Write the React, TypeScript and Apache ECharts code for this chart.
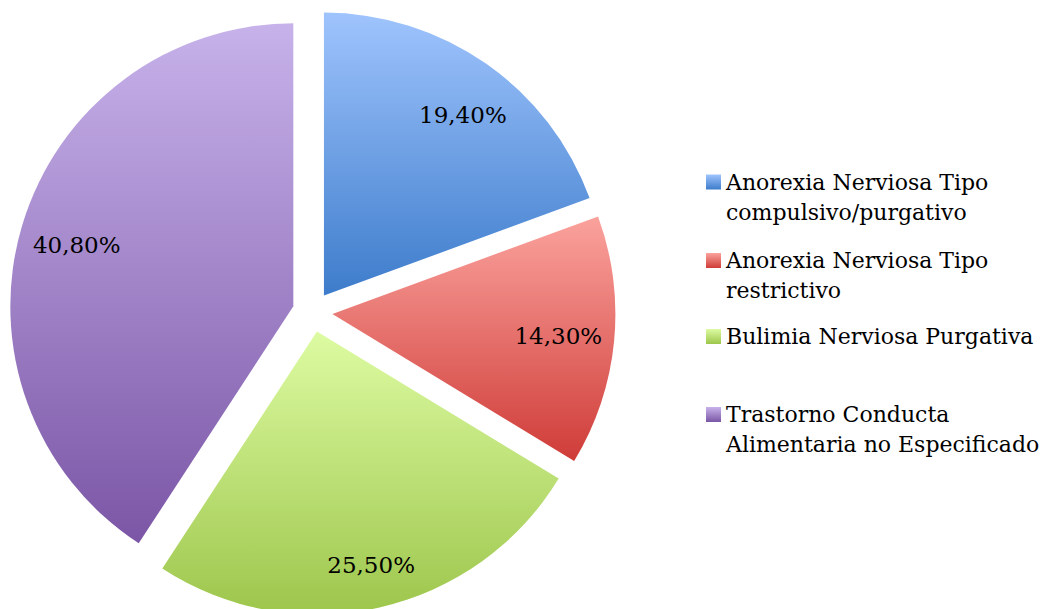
import React, { useEffect, useRef } from "react";
import * as echarts from "echarts";

const categories = [
  "Anorexia Nerviosa Tipo\ncompulsivo/purgativo",
  "Anorexia Nerviosa Tipo\nrestrictivo",
  "Bulimia Nerviosa Purgativa",
  "Trastorno Conducta\nAlimentaria no Especificado",
];
const values = [19.4, 14.3, 25.5, 40.8];
const topColors = ["#9fc4fd", "#fba29d", "#ddfba2", "#c7b2ea"];
const bottomColors = ["#3d7ccb", "#cf3c38", "#9dc64c", "#7b56a6"];

const legendTops = [137, 215.5, 321.5, 369.5];
// label nudges [dx, dy]
const labelNudges = [
  [9, 6],
  [0, 0],
  [4, 12],
  [1, 3],
];
const FONT = "DejaVu Serif";

function grad(i: number) {
  return new echarts.graphic.LinearGradient(0, 0, 0, 1, [
    { offset: 0, color: topColors[i] },
    { offset: 1, color: bottomColors[i] },
  ]);
}

export default function App() {
  const ref = useRef<HTMLDivElement>(null);
  useEffect(() => {
    if (!ref.current) return;
    const chart = echarts.init(ref.current, undefined, { renderer: "svg" });
    const center = [312.5, 312];
    const mainData = categories.map((name, i) => ({
      name,
      value: values[i],
      selected: true,
      itemStyle: { color: grad(i) },
      select: { itemStyle: { color: grad(i), borderWidth: 0 } },
    }));
    const labelData = categories.map((name, i) => ({
      name,
      value: values[i],
      selected: true,
    }));
    chart.setOption({
      animation: false,
      backgroundColor: "#ffffff",
      legend: categories.map((name, i) => ({
        data: [name],
        left: 706,
        top: legendTops[i],
        orient: "vertical",
        padding: 0,
        icon: "rect",
        itemWidth: 15,
        itemHeight: 15,
        itemGap: 6,
        selectedMode: false,
        formatter: (n: string) => (n.includes("\n") ? "\n" + n : n),
        textStyle: {
          fontFamily: FONT,
          fontSize: 22,
          lineHeight: 30,
          color: "#000",
        },
      })),
      series: [
        {
          type: "pie",
          center,
          radius: [0, 283],
          startAngle: 90,
          clockwise: true,
          selectedMode: "multiple",
          selectedOffset: 20,
          label: { show: false },
          labelLine: { show: false },
          itemStyle: { borderWidth: 0 },
          data: mainData,
        },
        {
          type: "pie",
          center,
          radius: [165, 283],
          startAngle: 90,
          clockwise: true,
          silent: true,
          legendHoverLink: false,
          selectedMode: "multiple",
          selectedOffset: 20,
          itemStyle: { color: "rgba(0,0,0,0)", borderWidth: 0 },
          select: { itemStyle: { color: "rgba(0,0,0,0)", borderWidth: 0 } },
          label: {
            show: true,
            position: "inner",
            fontFamily: FONT,
            fontSize: 23,
            color: "#000",
            formatter: (p: any) => p.value.toFixed(2).replace(".", ",") + "%",
          },
          labelLayout: (p: any) => ({
            dx: labelNudges[p.dataIndex][0],
            dy: labelNudges[p.dataIndex][1],
          }),
          labelLine: { show: false },
          data: labelData,
        },
      ],
    });
    return () => chart.dispose();
  }, []);
  return (
    <div
      ref={ref}
      style={{ position: "absolute", left: 0, top: 0, width: 1047, height: 609 }}
    />
  );
}
